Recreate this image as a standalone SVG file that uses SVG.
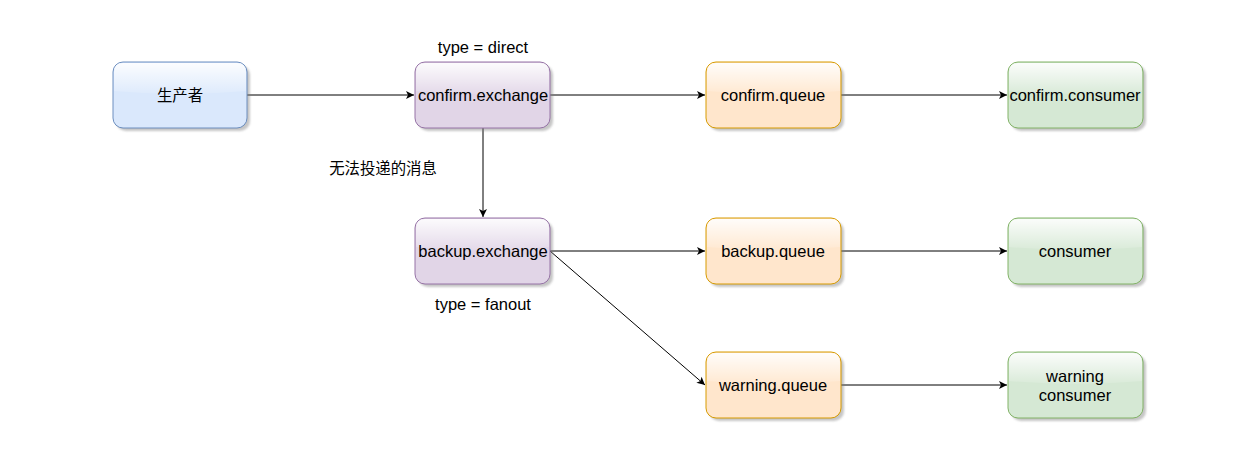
<svg xmlns="http://www.w3.org/2000/svg" width="1253" height="462" viewBox="0 0 1253 462">
<style>
.lbl{font-family:"Liberation Sans","Noto Sans CJK SC",sans-serif;font-size:16.5px;fill:#000;text-anchor:middle;dominant-baseline:central}
.cjk{font-size:15.4px}
.edge{fill:none;stroke:#000;stroke-width:1}
.blue{fill:#dae8fc;stroke:#6c8ebf}
.purple{fill:#e1d5e7;stroke:#9673a6}
.orange{fill:#ffe6cc;stroke:#d79b00}
.green{fill:#d5e8d4;stroke:#82b366}
.shadow{fill:#808080;opacity:0.45}
.glass{fill:url(#gl)}
</style>
<defs>
<marker id="ah" markerWidth="10" markerHeight="10" refX="9" refY="5" orient="auto" markerUnits="userSpaceOnUse">
<path d="M1,1 L9,5 L1,9 L3,5 Z" fill="#000"/>
</marker>
<linearGradient id="gl" x1="0" y1="0" x2="0" y2="1">
<stop offset="0" stop-color="#fff" stop-opacity="0.9"/>
<stop offset="1" stop-color="#fff" stop-opacity="0.1"/>
</linearGradient>
<filter id="blur"><feGaussianBlur stdDeviation="1.2"/></filter>
</defs>
<rect width="1253" height="462" fill="#fff"/>
<g id="edges">
<path class="edge" d="M247,95 H414" marker-end="url(#ah)"/>
<path class="edge" d="M550,95 H705" marker-end="url(#ah)"/>
<path class="edge" d="M841,95 H1007" marker-end="url(#ah)"/>
<path class="edge" d="M483,128 V217" marker-end="url(#ah)"/>
<path class="edge" d="M550,251 H705" marker-end="url(#ah)"/>
<path class="edge" d="M550,251 L705,385" marker-end="url(#ah)"/>
<path class="edge" d="M841,251 H1007" marker-end="url(#ah)"/>
<path class="edge" d="M841,385 H1007" marker-end="url(#ah)"/>
</g>
<g id="producer">
<rect class="shadow" x="116" y="65" width="134" height="66" rx="10" filter="url(#blur)"/>
<rect class="blue" x="113" y="62" width="134" height="66" rx="10"/>
<path class="glass" d="M123,63 H237 Q246,63 246,72 V91 Q180,97 114,91 V72 Q114,63 123,63 Z"/>
<text class="lbl cjk" x="180" y="95">生产者</text>
</g>
<g id="confirm-exchange">
<rect class="shadow" x="418" y="65" width="135" height="66" rx="10" filter="url(#blur)"/>
<rect class="purple" x="415" y="62" width="135" height="66" rx="10"/>
<path class="glass" d="M425,63 H540 Q549,63 549,72 V91 Q483,97 416,91 V72 Q416,63 425,63 Z"/>
<text class="lbl" x="483" y="95">confirm.exchange</text>
<text class="lbl" x="483" y="47">type = direct</text>
</g>
<g id="confirm-queue">
<rect class="shadow" x="709" y="65" width="135" height="66" rx="10" filter="url(#blur)"/>
<rect class="orange" x="706" y="62" width="135" height="66" rx="10"/>
<path class="glass" d="M716,63 H831 Q840,63 840,72 V91 Q774,97 707,91 V72 Q707,63 716,63 Z"/>
<text class="lbl" x="773" y="95">confirm.queue</text>
</g>
<g id="confirm-consumer">
<rect class="shadow" x="1011" y="65" width="135" height="66" rx="10" filter="url(#blur)"/>
<rect class="green" x="1008" y="62" width="135" height="66" rx="10"/>
<path class="glass" d="M1018,63 H1133 Q1142,63 1142,72 V91 Q1076,97 1009,91 V72 Q1009,63 1018,63 Z"/>
<text class="lbl" x="1075" y="95">confirm.consumer</text>
</g>
<g id="undeliverable-label">
<text class="lbl cjk" x="383" y="168">无法投递的消息</text>
</g>
<g id="backup-exchange">
<rect class="shadow" x="418" y="221" width="135" height="66" rx="10" filter="url(#blur)"/>
<rect class="purple" x="415" y="218" width="135" height="66" rx="10"/>
<path class="glass" d="M425,219 H540 Q549,219 549,228 V247 Q483,253 416,247 V228 Q416,219 425,219 Z"/>
<text class="lbl" x="483" y="251">backup.exchange</text>
<text class="lbl" x="483" y="304">type = fanout</text>
</g>
<g id="backup-queue">
<rect class="shadow" x="709" y="221" width="135" height="66" rx="10" filter="url(#blur)"/>
<rect class="orange" x="706" y="218" width="135" height="66" rx="10"/>
<path class="glass" d="M716,219 H831 Q840,219 840,228 V247 Q774,253 707,247 V228 Q707,219 716,219 Z"/>
<text class="lbl" x="773" y="251">backup.queue</text>
</g>
<g id="consumer">
<rect class="shadow" x="1011" y="221" width="135" height="66" rx="10" filter="url(#blur)"/>
<rect class="green" x="1008" y="218" width="135" height="66" rx="10"/>
<path class="glass" d="M1018,219 H1133 Q1142,219 1142,228 V247 Q1076,253 1009,247 V228 Q1009,219 1018,219 Z"/>
<text class="lbl" x="1075" y="251">consumer</text>
</g>
<g id="warning-queue">
<rect class="shadow" x="709" y="355" width="135" height="66" rx="10" filter="url(#blur)"/>
<rect class="orange" x="706" y="352" width="135" height="66" rx="10"/>
<path class="glass" d="M716,353 H831 Q840,353 840,362 V381 Q774,387 707,381 V362 Q707,353 716,353 Z"/>
<text class="lbl" x="773" y="385">warning.queue</text>
</g>
<g id="warning-consumer">
<rect class="shadow" x="1011" y="355" width="135" height="66" rx="10" filter="url(#blur)"/>
<rect class="green" x="1008" y="352" width="135" height="66" rx="10"/>
<path class="glass" d="M1018,353 H1133 Q1142,353 1142,362 V381 Q1076,387 1009,381 V362 Q1009,353 1018,353 Z"/>
<text class="lbl" x="1075" y="376">warning</text>
<text class="lbl" x="1075" y="395">consumer</text>
</g>
</svg>
